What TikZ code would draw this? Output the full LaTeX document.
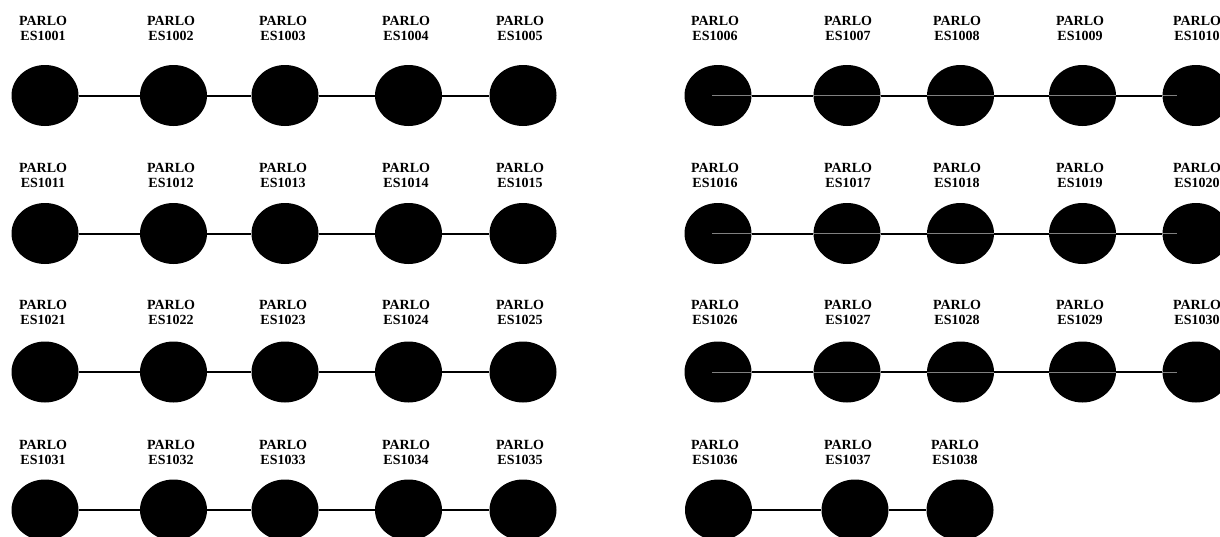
\documentclass[tikz,border=0pt]{standalone}
\usepackage{fontspec}
\setmainfont{Liberation Serif}
\usetikzlibrary{shapes.geometric}
\tikzset{
  dot/.style={ellipse, fill=black, minimum width=67pt, minimum height=61pt, inner sep=0pt},
  lab/.style={font=\bfseries\fontsize{14}{15}\selectfont, align=center, anchor=north, inner sep=0pt},
  link/.style={black, line width=2pt},
  ghost/.style={gray, line width=1pt}
}
\begin{document}
\begin{tikzpicture}[x=1pt,y=-1pt]
\useasboundingbox (0,0) rectangle (1220,536);
% left group, all rows
\foreach \r/\ly/\cy in {0/16/95.5, 1/163/233.5, 2/300/372, 3/440/510} {
  \foreach \i/\cx/\lx in {1/45/43, 2/173.5/171, 3/285/283, 4/408.5/406, 5/523/520} {
    \pgfmathtruncatemacro\k{1000+10*\r+\i}
    \node[lab] (l\k) at (\lx,\ly) {PARLO\\ES\k};
    \node[dot] (c\k) at (\cx,\cy) {};
  }
  \foreach \i in {1,...,4} {
    \pgfmathtruncatemacro\a{1000+10*\r+\i}
    \pgfmathtruncatemacro\b{\a+1}
    \draw[link] (c\a) -- (c\b);
  }
}
% right group, rows 1-3
\foreach \r/\ly/\cy in {0/16/95.5, 1/163/233.5, 2/300/372} {
  \foreach \i/\cx/\lx in {6/718/715, 7/847/848, 8/960.5/957, 9/1082.5/1080, 10/1196/1197} {
    \pgfmathtruncatemacro\k{1000+10*\r+\i}
    \node[lab] (l\k) at (\lx,\ly) {PARLO\\ES\k};
    \node[dot] (c\k) at (\cx,\cy) {};
  }
  \pgfmathtruncatemacro\s{1006+10*\r}
  \pgfmathtruncatemacro\e{1010+10*\r}
  \draw[ghost] ([xshift=-6pt]c\s.center) -- ([xshift=-19pt]c\e.center);
  \foreach \i in {6,...,9} {
    \pgfmathtruncatemacro\a{1000+10*\r+\i}
    \pgfmathtruncatemacro\b{\a+1}
    \draw[link] (c\a) -- (c\b);
  }
}
% right group, row 4
\foreach \i/\cx/\lx in {6/718.5/715, 7/855/848, 8/960/955} {
  \pgfmathtruncatemacro\k{1030+\i}
  \node[lab] (l\k) at (\lx,440) {PARLO\\ES\k};
  \node[dot] (c\k) at (\cx,510) {};
}
\draw[link] (c1036) -- (c1037);
\draw[link] (c1037) -- (c1038);
\end{tikzpicture}
\end{document}
